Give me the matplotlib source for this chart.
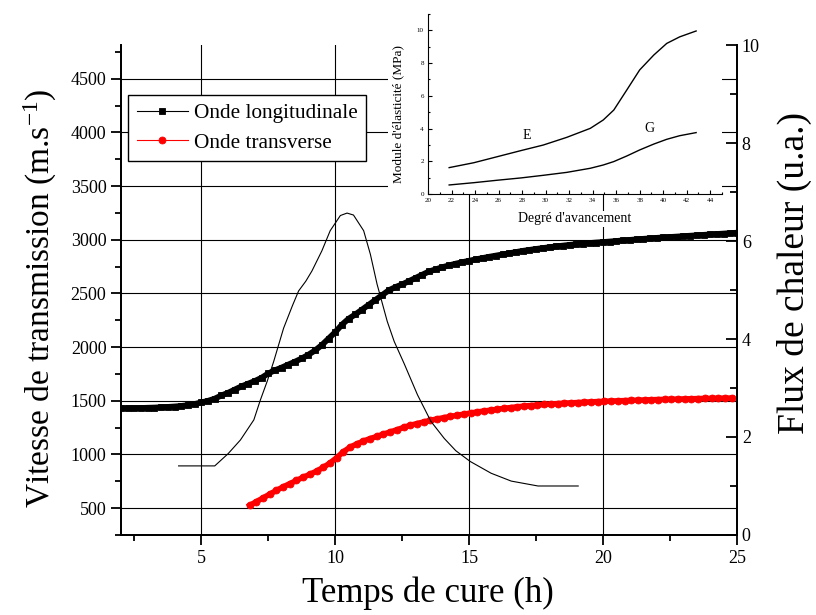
import numpy as np
import matplotlib.pyplot as plt
from matplotlib.ticker import MultipleLocator
from matplotlib.patches import Rectangle

plt.rcParams['font.family'] = ['Liberation Serif', 'DejaVu Serif']
plt.rcParams['mathtext.fontset'] = 'custom'
plt.rcParams['mathtext.rm'] = 'Liberation Serif'
plt.rcParams['mathtext.it'] = 'Liberation Serif:italic'

# onde longitudinale, one reading every 0.25 h from 2 h to 25 h
t_long = np.arange(2.0, 25.01, 0.25)
v_long = [1430, 1431, 1432, 1433, 1435, 1437, 1440, 1443, 1447, 1452,
          1460, 1470, 1485, 1500, 1520, 1550, 1575, 1605, 1635, 1660,
          1685, 1715, 1755, 1785, 1810, 1838, 1865, 1895, 1930, 1970,
          2020, 2080, 2140, 2210, 2265, 2305, 2350, 2395, 2440, 2485,
          2530, 2560, 2585, 2615, 2645, 2675, 2705, 2725, 2745, 2762,
          2778, 2792, 2805, 2818, 2830, 2842, 2853, 2864, 2875, 2886,
          2897, 2906, 2915, 2923, 2931, 2939, 2946, 2953, 2959, 2965,
          2970, 2975, 2979, 2984, 2989, 2994, 2999, 3004, 3009, 3013,
          3018, 3022, 3026, 3030, 3034, 3038, 3042, 3046, 3050, 3054,
          3058, 3062, 3066]

# onde transverse, from 6.8 h
t_trans = np.arange(6.8, 25.01, 0.25)
v_trans = [525, 560, 595, 630, 665, 698, 728, 758, 788, 815,
           845, 880, 920, 970, 1025, 1068, 1098, 1125, 1148, 1168,
           1190, 1210, 1230, 1252, 1272, 1288, 1303, 1318, 1331, 1343,
           1354, 1365, 1376, 1386, 1396, 1405, 1413, 1421, 1430, 1437,
           1444, 1451, 1456, 1461, 1466, 1470, 1474, 1478, 1481, 1484,
           1487, 1490, 1493, 1495, 1498, 1500, 1502, 1504, 1506, 1508,
           1510, 1512, 1513, 1515, 1516, 1518, 1519, 1521, 1522, 1523,
           1524, 1525, 1526]

# flux de chaleur (right axis)
t_heat = [4.15, 5.5, 6.0, 6.46, 6.96, 7.2, 7.46, 7.7, 8.07, 8.4, 8.63, 8.9,
          9.13, 9.5, 9.81, 10.19, 10.44, 10.68, 11.06, 11.31, 11.56, 11.94,
          12.2, 12.57, 13.07, 13.57, 14.07, 14.5, 15.04, 15.82, 16.57, 17.57, 19.07]
heat = [1.41, 1.41, 1.66, 1.94, 2.35, 2.75, 3.14, 3.54, 4.22, 4.68, 4.98, 5.18,
        5.39, 5.80, 6.21, 6.52, 6.57, 6.53, 6.21, 5.73, 5.12, 4.36,
        3.95, 3.50, 2.86, 2.32, 1.97, 1.72, 1.50, 1.26, 1.10, 1.00, 1.00]

# inset: modules E and G vs degre d'avancement
deg = [21.8, 23.9, 25.9, 27.9, 29.8, 31.8, 33.8, 34.9, 35.8, 36.9, 38.0, 39.2, 40.3, 41.4, 42.8]
mod_E = [1.61, 1.91, 2.28, 2.65, 2.99, 3.46, 4.01, 4.52, 5.13, 6.35, 7.58, 8.49, 9.20, 9.60, 9.96]
mod_G = [0.55, 0.69, 0.84, 0.98, 1.14, 1.32, 1.57, 1.77, 1.98, 2.32, 2.69, 3.05, 3.34, 3.56, 3.75]

fig = plt.figure(figsize=(8.16, 6.15), dpi=100)
ax = fig.add_axes([0.1483, 0.1301, 0.7549, 0.7967])
ax2 = ax.twinx()

# dense symbols merge into a thick band
ax.plot(t_long, v_long, color='black', lw=4.2)
ax.plot(t_trans, v_trans, color='red', lw=4.0)
ax.plot(t_long, v_long, color='black', lw=0.8, marker='s', ms=5, mew=0.6,
        label='Onde longitudinale')
ax.plot(t_trans, v_trans, color='red', lw=0.8, marker='o', ms=5, mew=0.6,
        label='Onde transverse')
ax2.plot(t_heat, heat, color='black', lw=0.8)

ax.set_xlim(2, 25)
ax.set_ylim(250, 4815)
ax2.set_ylim(0, 10)

ax.xaxis.set_major_locator(MultipleLocator(5))
ax.xaxis.set_minor_locator(MultipleLocator(2.5))
ax.yaxis.set_major_locator(MultipleLocator(500))
ax.yaxis.set_minor_locator(MultipleLocator(250))
ax2.yaxis.set_major_locator(MultipleLocator(2))
ax2.yaxis.set_minor_locator(MultipleLocator(1))
ax.set_yticks(range(500, 4501, 500))

ax.grid(True, which='major', color='black', lw=0.8)
ax.tick_params(which='major', direction='out', length=7, width=1.3, labelsize=13)
ax.tick_params(which='minor', direction='out', length=4, width=1.3)
ax2.tick_params(which='major', direction='in', length=8, width=1.3, labelsize=13)
ax2.tick_params(which='minor', direction='in', length=5, width=1.3)

for a in (ax, ax2):
    a.spines['top'].set_visible(False)
    for s in ('left', 'right', 'bottom'):
        a.spines[s].set_linewidth(1.3)

ax.set_xlabel('Temps de cure (h)', fontsize=25, va='center')
ax.xaxis.set_label_coords(0.498, -0.118)
ax.set_ylabel('Vitesse de transmission (m.s$^{-1}$)', fontsize=24, va='center')
ax.yaxis.set_label_coords(-0.1315, 0.484)
ax2.set_ylabel('Flux de chaleur (u.a.)', fontsize=27, va='center', rotation=90)
ax2.yaxis.set_label_coords(1.094, 0.535)

leg = ax.legend(loc='upper left', bbox_to_anchor=(0.0114, 0.898), borderaxespad=0,
                fancybox=False, edgecolor='black', framealpha=1, fontsize=15.3,
                handlelength=2.4, handletextpad=0.3, borderpad=0.4, labelspacing=0.45)
leg.get_frame().set_linewidth(1.0)

# white area behind the inset
fig.patches.append(Rectangle((388 / 816, 1 - 194 / 615), 40 / 816, 194 / 615,
                             transform=fig.transFigure, facecolor='white',
                             edgecolor='none', zorder=4))

axi = fig.add_axes([0.5245, 0.6846, 0.3603, 0.2927])
axi.set_zorder(5)
axi.plot(deg, mod_E, color='black', lw=1.0)
axi.plot(deg, mod_G, color='black', lw=1.0)
axi.text(28.4, 3.6, 'E', fontsize=10, ha='center', va='center')
axi.text(38.8, 4.0, 'G', fontsize=10, ha='center', va='center')
axi.set_xlim(20, 45)
axi.set_ylim(0, 11)
axi.xaxis.set_minor_locator(MultipleLocator(1))
axi.yaxis.set_minor_locator(MultipleLocator(1))
axi.set_xticks(range(20, 45, 2))
axi.set_yticks(range(0, 11, 2))
axi.tick_params(which='major', direction='in', length=3, width=0.8, labelsize=5, pad=3)
axi.tick_params(which='minor', direction='in', length=1.5, width=0.8)
axi.spines['top'].set_visible(False)
axi.spines['right'].set_visible(False)
axi.set_xlabel("Degré d'avancement", fontsize=10, va='center',
               bbox=dict(facecolor='white', edgecolor='none', pad=1))
axi.xaxis.set_label_coords(0.5, -0.139)
axi.set_ylabel("Module d'élasticité (MPa)", fontsize=9.5, va='center')
axi.yaxis.set_label_coords(-0.102, 0.447)

fig.savefig('out.png', dpi=100)
